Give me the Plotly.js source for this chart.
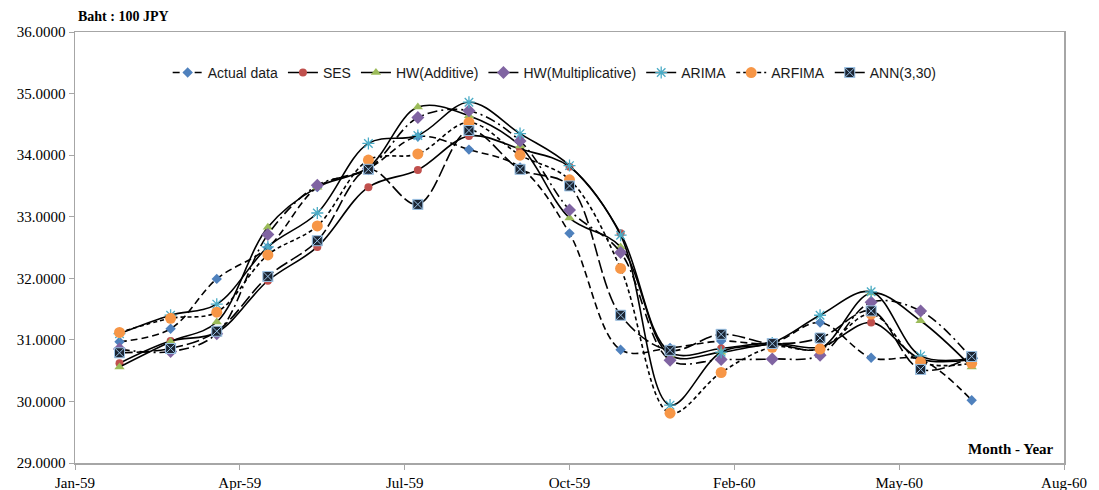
<!DOCTYPE html>
<html>
<head>
<meta charset="utf-8">
<script src="https://cdn.plot.ly/plotly-3.0.1.min.js"></script>
<style>html,body{margin:0;padding:0;background:#fff;}#chart{width:1099px;height:490px;}</style>
</head>
<body>
<div id="chart"></div>
<script>
// Monthly observation dates (plotted on a date axis)
const months = ["1959-01-28","1959-02-28","1959-03-28","1959-04-28","1959-05-28","1959-06-28",
  "1959-07-28","1959-08-28","1959-09-28","1959-10-28","1959-11-28","1959-12-28",
  "1960-01-28","1960-02-28","1960-03-28","1960-04-28","1960-05-28","1960-06-28"];

const actualData = [30.97,31.18,31.99,32.50,33.48,33.78,34.30,34.09,33.80,32.73,30.84,30.87,30.98,30.95,31.28,30.71,30.68,30.02];
const ses        = [30.62,30.98,31.12,31.96,32.51,33.48,33.76,34.31,34.10,33.81,32.73,30.80,30.86,30.95,30.88,31.28,30.69,30.68];
const hwAdd      = [30.56,30.97,31.29,32.83,33.48,33.80,34.78,34.64,34.15,32.98,32.51,30.75,30.80,30.93,30.86,31.76,31.31,30.56];
const hwMult     = [30.85,30.81,31.10,32.71,33.51,33.78,34.61,34.72,34.23,33.11,32.42,30.67,30.68,30.69,30.75,31.61,31.47,30.70];
const arima      = [31.10,31.40,31.58,32.51,33.06,34.19,34.32,34.86,34.35,33.83,32.70,29.94,30.80,30.95,31.40,31.78,30.74,30.70];
const arfima     = [31.12,31.35,31.45,32.38,32.85,33.92,34.02,34.53,34.00,33.60,32.16,29.81,30.47,30.88,30.85,31.42,30.64,30.62];
const ann        = [30.79,30.86,31.14,32.03,32.61,33.77,33.20,34.40,33.77,33.50,31.40,30.83,31.09,30.94,31.03,31.47,30.52,30.73];

const seriesNames = ["Actual data","SES","HW(Additive)","HW(Multiplicative)","ARIMA","ARFIMA","ANN(3,30)"];

const LW = 1.6;
function tr(name, y, dash, symbol, size, color, lineColor, lineWidth) {
  return {
    type: "scatter", mode: "lines+markers", name: name, x: months, y: y,
    line: {color: "#000000", width: LW, dash: dash, shape: "spline", smoothing: 1},
    marker: {symbol: symbol, size: size, color: color,
             line: {color: lineColor || color, width: lineWidth || 0}}
  };
}

const traces = [
  tr(seriesNames[0], actualData, "7px,4px", "diamond", 8, "#4F81BD"),
  tr(seriesNames[1], ses, "solid", "circle", 8, "#C0504D"),
  tr(seriesNames[2], hwAdd, "solid", "triangle-up", 9, "#9BBB59"),
  tr(seriesNames[3], hwMult, "10px,4px,2px,4px", "diamond", 10, "#8064A2"),
  tr(seriesNames[4], arima, "solid", "asterisk-open", 10, "#4BACC6", "#4BACC6", 1.3),
  tr(seriesNames[5], arfima, "4px,3px", "circle", 11, "#F79646"),
  tr(seriesNames[6], ann, "13px,4px", "square-x", 10, "#1B2533", "#9CC3E6", 1)
];

const layout = {
  width: 1099, height: 490,
  margin: {l: 75, r: 35, t: 32, b: 27},
  paper_bgcolor: "#ffffff", plot_bgcolor: "#ffffff",
  showlegend: true,
  legend: {orientation: "h", x: 0.485, xanchor: "center", y: 0.905, yanchor: "middle",
           font: {family: "Liberation Sans, Arial, sans-serif", size: 14, color: "#1a1a1a"},
           bgcolor: "rgba(0,0,0,0)", itemwidth: 30, tracegroupgap: 0},
  xaxis: {
    type: "date",
    range: ["1959-01-01", "1960-08-23"],
    tick0: "1959-01-01", dtick: 100 * 86400000,
    tickformat: "%b-%y",
    showgrid: false, zeroline: false,
    showline: true, linecolor: "#A6A6A6", linewidth: 1.5, mirror: true,
    ticks: "outside", ticklen: 5, tickcolor: "#A6A6A6",
    tickfont: {family: "Liberation Serif, Times New Roman, serif", size: 15, color: "#000"}
  },
  yaxis: {
    range: [29, 36], dtick: 1, tick0: 29,
    tickformat: ".4f",
    showgrid: false, zeroline: false,
    showline: true, linecolor: "#A6A6A6", linewidth: 1.5, mirror: true,
    ticks: "outside", ticklen: 5, tickcolor: "#A6A6A6",
    tickfont: {family: "Liberation Serif, Times New Roman, serif", size: 15, color: "#000"}
  },
  annotations: [
    {text: "<b>Baht : 100 JPY</b>", xref: "paper", yref: "paper", x: 0.001, y: 1.037,
     xanchor: "left", yanchor: "middle", showarrow: false,
     font: {family: "Liberation Serif, Times New Roman, serif", size: 14, color: "#000"}},
    {text: "<b>Month - Year</b>", xref: "paper", yref: "paper", x: 0.992, y: 0.033,
     xanchor: "right", yanchor: "middle", showarrow: false,
     font: {family: "Liberation Serif, Times New Roman, serif", size: 15, color: "#000"}}
  ]
};

Plotly.newPlot("chart", traces, layout, {displayModeBar: false, staticPlot: true});
</script>
</body>
</html>
